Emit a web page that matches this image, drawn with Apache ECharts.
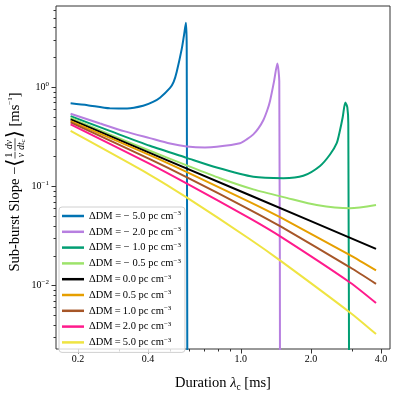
<!DOCTYPE html>
<html>
<head>
<meta charset="utf-8">
<script src="https://cdn.jsdelivr.net/npm/echarts@6/dist/echarts.min.js"></script>
<style>
  html, body { margin: 0; padding: 0; background: #fff; }
  #chart { width: 397px; height: 397px; }
</style>
</head>
<body>
<div id="chart"></div>
<script>
// values: duration lambda_c [ms] and sub-burst slope [1/ms], one pair per ΔDM
const dmLabels = ['−5.0', '−2.0', '−1.0', '−0.5', '0.0', '0.5', '1.0', '2.0', '5.0'];

const lamM50 = [0.186, 0.22, 0.274, 0.325, 0.381, 0.42, 0.450, 0.497, 0.515, 0.531, 0.558, 0.570, 0.5815, 0.586, 0.5904];
const slopeM50 = [0.690, 0.66, 0.613, 0.612, 0.650, 0.712, 0.785, 0.984, 1.13, 1.436, 2.434, 3.3, 4.46, 2.5, 0.0001];

const lamM20 = [0.186, 0.249, 0.318, 0.407, 0.497, 0.586, 0.702, 0.788, 0.992, 1.06, 1.132, 1.19, 1.249, 1.30, 1.335, 1.389, 1.435, 1.463, 1.475];
const slopeM20 = [0.540, 0.431, 0.359, 0.307, 0.271, 0.253, 0.247, 0.251, 0.273, 0.298, 0.335, 0.385, 0.465, 0.59, 0.728, 1.146, 1.733, 1.146, 0.0001];

const lamM10 = [0.186, 0.274, 0.407, 0.586, 0.788, 1.132, 1.522, 1.855, 2.189, 2.415, 2.581, 2.666, 2.738, 2.810, 2.866, 2.894, 2.923];
const slopeM10 = [0.511, 0.363, 0.257, 0.194, 0.155, 0.125, 0.121, 0.128, 0.161, 0.210, 0.273, 0.369, 0.499, 0.701, 0.626, 0.429, 0.0001];

const lamM05 = [0.186, 0.274, 0.407, 0.586, 0.814, 1.132, 1.574, 2.118, 2.943, 3.806];
const slopeM05 = [0.491, 0.334, 0.229, 0.163, 0.121, 0.0934, 0.0767, 0.0650, 0.0603, 0.0650];

const lamP00 = [0.186, 1.095, 3.806];
const slopeP00 = [0.474, 0.0815, 0.0235];

const lamPos = [0.186, 0.407, 0.5875, 1.095, 1.488, 2.943, 3.806];
const slopeP05 = [0.456, 0.2067, 0.1395, 0.0695, 0.0484, 0.02035, 0.01427];
const slopeP10 = [0.443, 0.1885, 0.1236, 0.0582, 0.0393, 0.01533, 0.01042];
const slopeP20 = [0.423, 0.1692, 0.1069, 0.0476, 0.0310, 0.01076, 0.00668];
const slopeP50 = [0.363, 0.1312, 0.0771, 0.0294, 0.0177, 0.00537, 0.00325];

const xMajor = [0.2, 0.4, 1.0, 2.0, 4.0];
const xMinor = [0.2, 0.3, 0.4, 0.5, 0.6, 0.7, 0.8, 0.9, 1, 2, 3, 4];
const yMajor = [0.01, 0.1, 1];
const yMinor = [0.003, 0.004, 0.005, 0.006, 0.007, 0.008, 0.009,
  0.02, 0.03, 0.04, 0.05, 0.06, 0.07, 0.08, 0.09,
  0.2, 0.3, 0.4, 0.5, 0.6, 0.7, 0.8, 0.9, 2, 3, 4, 5, 6];

const curves = [
  [lamM50, slopeM50], [lamM20, slopeM20], [lamM10, slopeM10], [lamM05, slopeM05],
  [lamP00, slopeP00], [lamPos, slopeP05], [lamPos, slopeP10], [lamPos, slopeP20], [lamPos, slopeP50]
];
const colors = ['#0173b2', '#b77fe0', '#029e73', '#9de36b', '#000000', '#e69f00', '#a65628', '#ff1a8c', '#efe442'];

const SERIF = '"Liberation Serif", "DejaVu Serif", serif';
const X_MIN = 0.161, X_MAX = 4.37, Y_MIN = 0.0023, Y_MAX = 6.59;

function pairs(xs, ys) {
  return xs.map((x, i) => [x, ys[i]]);
}

// y axis title with stacked fractions, laid out piece by piece then rotated
const ctx = document.createElement('canvas').getContext('2d');
function tw(str, font) { ctx.font = font; return ctx.measureText(str).width; }

function yTitle() {
  const big = '14.5px ' + SERIF;
  const brk = '21px ' + SERIF;
  const sm = '9.5px ' + SERIF;
  const smIt = 'italic 9.5px ' + SERIF;
  const tiny = '7px ' + SERIF;
  const kids = [];
  let x = 0;
  function put(str, font, y) {
    kids.push({ type: 'text', x: x, y: y, style: { text: str, font: font, fill: '#000', align: 'left', verticalAlign: 'middle' } });
    x += tw(str, font);
  }
  function frac(numParts, denParts) {
    const wn = numParts.reduce((s, p) => s + tw(p[0], p[1]), 0);
    const wd = denParts.reduce((s, p) => s + tw(p[0], p[1]), 0);
    const w = Math.max(wn, wd) + 2;
    const x0 = x;
    x = x0 + (w - wn) / 2;
    numParts.forEach(p => put(p[0], p[1], -6 + (p[2] || 0)));
    x = x0 + (w - wd) / 2;
    denParts.forEach(p => put(p[0], p[1], 6 + (p[2] || 0)));
    kids.push({ type: 'line', shape: { x1: x0, y1: 0, x2: x0 + w, y2: 0 }, style: { stroke: '#000', lineWidth: 0.7 } });
    x = x0 + w;
  }
  put('Sub-burst Slope \u2212', big, 0);
  put('\u27e8', brk, 0);
  frac([['1', sm]], [['\u03bd', smIt]]);
  x += 1;
  frac([['d\u03bd', smIt]], [['dt', smIt], ['c', tiny, 2]]);
  put('\u27e9', brk, 0);
  put(' [ms', big, 0);
  put('\u22121', tiny, -5);
  put(']', big, 0);
  const total = x;
  kids.forEach(k => {
    if (k.type === 'text') k.x -= total / 2;
    else { k.shape.x1 -= total / 2; k.shape.x2 -= total / 2; }
  });
  return { type: 'group', x: 15, y: 182, rotation: Math.PI / 2, children: kids };
}

const chart = echarts.init(document.getElementById('chart'));

const tickStyle = { color: '#333', width: 1 };

chart.setOption({
  animation: false,
  backgroundColor: '#fff',
  grid: { left: 56, right: 7, top: 6, bottom: 39, show: true, borderColor: '#333', borderWidth: 1, backgroundColor: 'transparent' },
  legend: {
    orient: 'vertical',
    left: 59,
    top: 207,
    selectedMode: false,
    icon: 'rect',
    itemWidth: 22,
    itemHeight: 2.5,
    itemGap: 3.8,
    padding: [3, 4, 4, 3],
    backgroundColor: 'rgba(255,255,255,0.8)',
    borderColor: '#d0d0d0',
    borderWidth: 1,
    borderRadius: 3,
    formatter: function (name) {
      const sep = name.charAt(0) === '\u2212' ? ' = \u2212 ' + name.slice(1) : '\u2009=\u2009' + name;
      return '\u0394DM' + sep + ' pc cm{s|\u22123}';
    },
    textStyle: {
      fontFamily: SERIF, fontSize: 10.5, color: '#000', lineHeight: 12,
      rich: { s: { fontFamily: SERIF, fontSize: 7, lineHeight: 8, verticalAlign: 'top', color: '#000' } }
    },
    data: dmLabels
  },
  xAxis: [{
    type: 'log',
    position: 'bottom',
    min: X_MIN,
    max: X_MAX,
    axisLine: { show: false },
    splitLine: { show: false },
    axisTick: { show: true, customValues: xMajor, length: 4.5, lineStyle: tickStyle },
    axisLabel: {
      customValues: xMajor,
      formatter: v => v.toFixed(1),
      fontFamily: SERIF, fontSize: 10, color: '#000', margin: 5
    },
    name: 'Duration {it|\u03bb}{sub|c} [ms]',
    nameLocation: 'middle',
    nameGap: 25,
    nameTextStyle: {
      fontFamily: SERIF, fontSize: 14.5, color: '#000', lineHeight: 18,
      rich: {
        it: { fontFamily: SERIF, fontSize: 14.5, fontStyle: 'italic', color: '#000', lineHeight: 18 },
        sub: { fontFamily: SERIF, fontSize: 9.5, color: '#000', lineHeight: 10, verticalAlign: 'bottom' }
      }
    }
  }, {
    type: 'log',
    position: 'bottom',
    min: X_MIN,
    max: X_MAX,
    axisLine: { show: false },
    splitLine: { show: false },
    axisTick: { show: true, customValues: xMinor, length: 2.5, lineStyle: tickStyle },
    axisLabel: { show: false }
  }],
  yAxis: [{
    type: 'log',
    position: 'left',
    min: Y_MIN,
    max: Y_MAX,
    axisLine: { show: false },
    splitLine: { show: false },
    axisTick: { show: true, customValues: yMajor, length: 4.5, lineStyle: tickStyle },
    axisLabel: {
      customValues: yMajor,
      formatter: v => {
        const e = Math.round(Math.log10(v));
        return '{b|10}{s|' + (e < 0 ? '\u2212' + (-e) : e) + '}';
      },
      margin: 7,
      rich: {
        b: { fontFamily: SERIF, fontSize: 10, color: '#000', lineHeight: 14 },
        s: { fontFamily: SERIF, fontSize: 7, color: '#000', lineHeight: 8, verticalAlign: 'top' }
      }
    }
  }, {
    type: 'log',
    position: 'left',
    min: Y_MIN,
    max: Y_MAX,
    axisLine: { show: false },
    splitLine: { show: false },
    axisTick: { show: true, customValues: yMinor, length: 2.5, lineStyle: tickStyle },
    axisLabel: { show: false }
  }],
  graphic: [yTitle()],
  series: curves.map((c, i) => ({
    name: dmLabels[i],
    type: 'line',
    xAxisIndex: 0,
    yAxisIndex: 0,
    data: pairs(c[0], c[1]),
    showSymbol: false,
    symbol: 'none',
    smooth: 0.25,
    clip: true,
    lineStyle: { width: 2, color: colors[i] },
    itemStyle: { color: colors[i] }
  }))
});
</script>
</body>
</html>
